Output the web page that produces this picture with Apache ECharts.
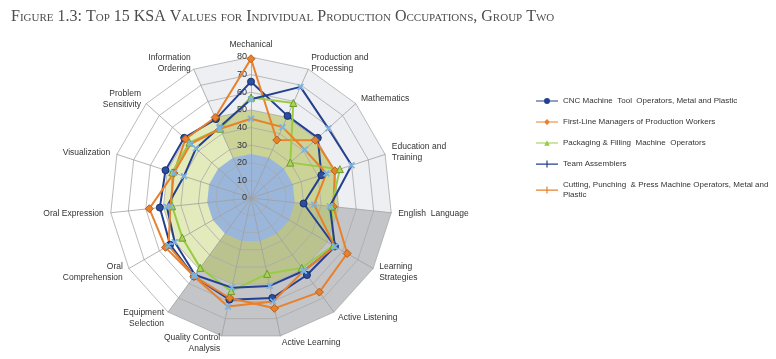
<!DOCTYPE html>
<html><head><meta charset="utf-8">
<script src="https://cdn.jsdelivr.net/npm/echarts@6/dist/echarts.min.js"></script>
<style>html,body{margin:0;padding:0;background:#fff}#c{width:776px;height:359px}</style>
</head><body><div id="c"></div>
<script>
// Axes in clockwise order starting from the top
const categories = ['Mechanical','Production and\nProcessing','Mathematics','Education and\nTraining','English  Language','Learning\nStrategies','Active Listening','Active Learning','Quality Control\nAnalysis','Equipment\nSelection','Oral\nComprehension','Oral Expression','Visualization','Problem\nSensitivity','Information\nOrdering'];
const tickLabels = [0,10,20,30,40,50,60,70,80];

const seriesNames = ['CNC Machine  Tool  Operators, Metal and Plastic','First-Line Managers of Production Workers','Packaging & Filling  Machine  Operators','Team Assemblers','Cutting, Punching  & Press Machine Operators, Metal and\nPlastic'];
const cnc       = [66,51,51,42,30,55,54,58,59,55,53,52,51,51,49];
const firstLine = [79,36,49,50,47,63,66,64,58,55,56,58,46,50,50];
const packaging = [57,59,30,53,46,54,49,44,54,49,45,45,47,47,43];
const team      = [56,69,59,60,45,55,51,51,52,54,50,48,40,42,44];
const cutting   = [45,44,41,45,36,55,51,60,63,55,54,46,46,46,43];

// Background bands
const bandInner = 25, bandMiddle = 50, bandOuter = 80;
const knowledgeAxes = [14,0,1,2,3,4];   // axes bounding the knowledge sector
const skillsAxes = [4,5,6,7,8,9];       // axes bounding the skills sector

// ECharts radar runs counter-clockwise; reorder to draw clockwise
const cw = arr => [arr[0]].concat(arr.slice(1).reverse());
const fill = (level, idxs) => categories.map((c,i) => (idxs ? (idxs.indexOf(i) >= 0 ? level : 0) : level));

const ind = cw(categories).map((n,i) => {
  const o = {name: n, min: tickLabels[0], max: tickLabels[tickLabels.length-1]};
  if (i === 0) o.axisLabel = {show: true};
  return o;
});
const indBlank = cw(categories).map(n => ({name: '', min: 0, max: 80}));

const center = [251,198], radius = 141;

const bandSeries = (val, color, z) => ({
  type:'radar', radarIndex:0, z:z, silent:true, symbol:'none',
  lineStyle:{width:0, opacity:0}, areaStyle:{color:color, opacity:1},
  data:[{value: cw(val)}]
});

const navy='#24408e', orange='#e8802c', green='#9acb45', lightBlue='#79b4e6';
const xPath = 'path://M0,1 L1,0 L4,3 L7,0 L8,1 L5,4 L8,7 L7,8 L4,5 L1,8 L0,7 L3,4 Z';

const dataSeries = (name, vals, lineColor, symbol, symColor, borderColor, size) => ({
  type:'radar', radarIndex:1, z:5, name:name, symbol:symbol, symbolSize:size,
  lineStyle:{color:lineColor, width:2},
  itemStyle:{color:symColor, borderColor:borderColor, borderWidth:1},
  data:[{value: cw(vals), name:name}]
});

const lineBar = 'M0,3 L22,3 L22,4.2 L0,4.2 Z ';
const icons = [
  'path://' + lineBar + 'M14,3.6 A3,3 0 1 1 8,3.6 A3,3 0 1 1 14,3.6 Z',
  'path://' + lineBar + 'M11,0.6 L14,3.6 L11,6.6 L8,3.6 Z',
  'path://' + lineBar + 'M11,0.8 L13.8,6.4 L8.2,6.4 Z',
  'path://' + lineBar + 'M10.4,0 L11.6,0 L11.6,7 L10.4,7 Z',
  'path://' + lineBar + 'M10.4,0 L11.6,0 L11.6,7 L10.4,7 Z'
];
const legendColors = [navy, orange, green, navy, orange];

const chart = echarts.init(document.getElementById('c'), null, {renderer:'canvas'});
chart.setOption({
  animation:false,
  backgroundColor:'#fff',
  title:{
    text:'Figure 1.3: Top 15 KSA Values for Individual Production Occupations, Group Two',
    left:6, top:4,
    textStyle:{fontFamily:'Liberation Serif', fontStyle:'small-caps', fontWeight:'normal', fontSize:16, color:'#4d4d4d'}
  },
  legend:{
    orient:'vertical', left:531, top:91, itemGap:11, itemWidth:22, itemHeight:7,
    textStyle:{fontFamily:'Liberation Sans', fontSize:8, color:'#333', lineHeight:10},
    data: seriesNames.map((n,i) => ({name:n, icon:icons[i], itemStyle:{color:legendColors[i], borderWidth:0}}))
  },
  radar:[
    {center:center, radius:radius, startAngle:90, shape:'polygon', splitNumber:8, z:0,
     indicator: indBlank,
     axisName:{show:false}, axisLine:{show:false}, splitLine:{show:false}, splitArea:{show:false}, axisLabel:{show:false}, axisTick:{show:false}},
    {center:center, radius:radius, startAngle:90, shape:'polygon', splitNumber:8, z:3,
     indicator: ind, nameGap:7,
     axisName:{color:'#333', fontFamily:'Liberation Sans', fontSize:8.5, lineHeight:11},
     axisLine:{show:true, lineStyle:{color:'#a0a0a0', width:0.8}},
     splitLine:{show:true, lineStyle:{color:'#aaaaaa', width:0.8}},
     splitArea:{show:false},
     axisTick:{show:false},
     axisLabel:{show:false, color:'#333', fontFamily:'Liberation Sans', fontSize:9, margin:4}}
  ],
  series:[
    bandSeries(fill(bandOuter, knowledgeAxes), '#eeeff2', 1),
    bandSeries(fill(bandOuter, skillsAxes), '#c3c5c8', 1.1),
    bandSeries(fill(bandMiddle, null), '#e3eabb', 1.2),
    bandSeries(fill(bandMiddle, knowledgeAxes), '#cbd396', 1.3),
    bandSeries(fill(bandMiddle, skillsAxes), '#bac38e', 1.4),
    bandSeries(fill(bandInner, null), '#9ab6db', 1.5),
    dataSeries(seriesNames[0], cnc, navy, 'circle', '#2a4ea0', '#1a2f6a', 7),
    dataSeries(seriesNames[1], firstLine, orange, 'diamond', '#e8802c', '#b8601a', 8),
    dataSeries(seriesNames[2], packaging, green, 'triangle', '#a8d45a', '#6f9a2a', 7),
    dataSeries(seriesNames[3], team, navy, xPath, lightBlue, lightBlue, 6),
    dataSeries(seriesNames[4], cutting, orange, xPath, lightBlue, lightBlue, 6)
  ]
});
</script></body></html>
